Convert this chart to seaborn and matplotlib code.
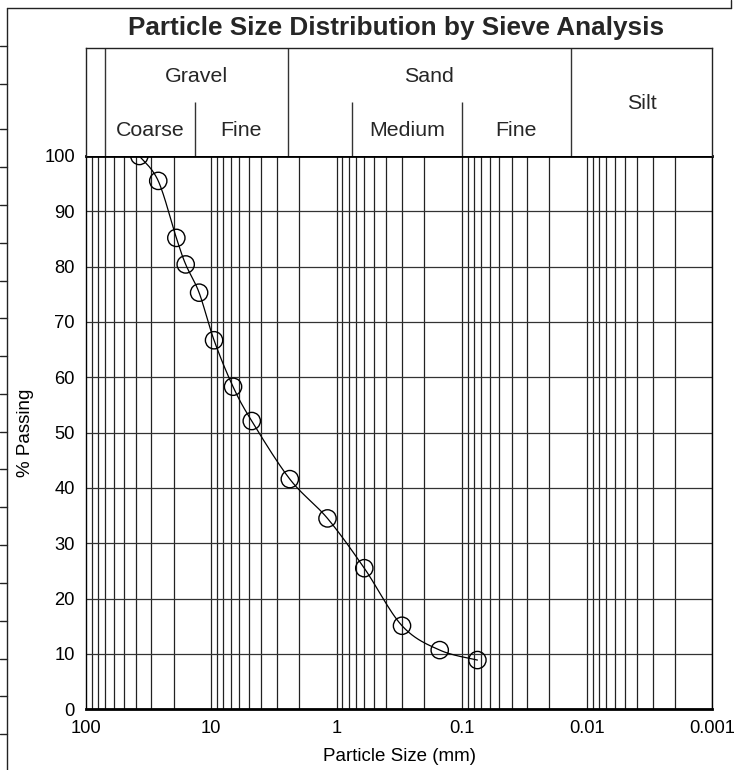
import numpy as np
import pandas as pd
import seaborn as sns
import matplotlib.pyplot as plt
from matplotlib.lines import Line2D
from matplotlib.ticker import FixedLocator, NullLocator

# Sieve-Daten (Korngröße in mm, Durchgang in %)
sieve_size = [37.5, 26.5, 19, 16, 12.5, 9.5, 6.7, 4.75, 2.36, 1.18, 0.6, 0.3, 0.15, 0.075]
passing = [100, 95.5, 85.2, 80.4, 75.3, 66.7, 58.3, 52.1, 41.6, 34.5, 25.5, 15.1, 10.7, 8.9]

# Klassifizierung oben (Grenzen in mm, aus dem Bild gelesen)
main_bounds = [70.5, 2.44, 0.0135]
sub_bounds = [13.5, 0.752, 0.100]
main_labels = [("Gravel", 70.5, 2.44), ("Sand", 2.44, 0.0135)]
sub_labels = [("Coarse", 70.5, 13.5), ("Fine", 13.5, 2.44),
              ("Medium", 0.752, 0.100), ("Fine", 0.100, 0.0135)]
silt_label = ("Silt", 0.0135, 0.001)

x_ticks = [100, 10, 1, 0.1, 0.01, 0.001]
x_ticklabels = ["100", "10", "1", "0.1", "0.01", "0.001"]
y_ticks = list(range(0, 101, 10))

df = pd.DataFrame({"size": sieve_size, "passing": passing})

sns.set_theme(style="white")
plt.rcParams['font.family'] = ['Liberation Sans', 'DejaVu Sans']


def catmull_rom(x, y, n=24):
    # geglättete Linie wie in Excel (im log-x Raum)
    p = np.column_stack([np.log10(x), y])
    p = np.vstack([p[0], p, p[-1]])
    out = []
    t = np.linspace(0, 1, n)[:, None]
    for i in range(1, len(p) - 2):
        p0, p1, p2, p3 = p[i - 1], p[i], p[i + 1], p[i + 2]
        seg = 0.5 * ((2 * p1) + (-p0 + p2) * t + (2 * p0 - 5 * p1 + 4 * p2 - p3) * t ** 2
                     + (-p0 + 3 * p1 - 3 * p2 + p3) * t ** 3)
        out.append(seg)
    out = np.vstack(out)
    return 10 ** out[:, 0], out[:, 1]


fig = plt.figure(figsize=(7.34, 7.70), dpi=100)
L, W = 86 / 734, (712.3 - 86) / 734
ax = fig.add_axes([L, 1 - 709.3 / 770, W, (709.3 - 156) / 770])
axh = fig.add_axes([L, 1 - 156 / 770, W, (156 - 48.3) / 770])

# Gitter
ax.set_xscale("log")
ax.set_xlim(100, 0.001)
ax.set_ylim(0, 100)
minor = [m * 10.0 ** e for e in range(-3, 2) for m in range(1, 10)]
for v in minor:
    ax.axvline(v, color="#222222", lw=0.9, zorder=1)
for v in y_ticks:
    ax.axhline(v, color="#333333", lw=0.9, zorder=1)

sx, sy = catmull_rom(sieve_size, passing)
ax.plot(sx, sy, color="black", lw=0.9, zorder=3)
sns.scatterplot(data=df, x="size", y="passing", ax=ax, marker="o", s=155,
                facecolor="none", edgecolor="black", linewidth=1.0, zorder=4,
                legend=False)

ax.xaxis.set_major_locator(FixedLocator(x_ticks))
ax.xaxis.set_minor_locator(NullLocator())
ax.set_xticklabels(x_ticklabels)
ax.set_yticks(y_ticks)
ax.tick_params(axis="both", length=0, labelsize=13.2, colors="black")
ax.tick_params(axis="x", pad=8)
ax.tick_params(axis="y", pad=8)
ax.set_xlabel("Particle Size (mm)", fontsize=13.5, color="black")
ax.set_ylabel("% Passing", fontsize=13.5, color="black")
ax.xaxis.set_label_coords(0.5, -0.070)
ax.yaxis.set_label_coords(-0.083, 0.5)
for side in ["left", "right"]:
    ax.spines[side].set_linewidth(1.0)
    ax.spines[side].set_color("black")
for side in ["top", "bottom"]:
    ax.spines[side].set_linewidth(2.0)
    ax.spines[side].set_color("black")
    ax.spines[side].set_zorder(5)

# Kopfzeile mit Bodenklassen
axh.set_xscale("log")
axh.set_xlim(100, 0.001)
axh.set_ylim(0, 1)
axh.set_xticks([])
axh.set_yticks([])
axh.xaxis.set_minor_locator(NullLocator())
for s in axh.spines.values():
    s.set_color("#222222")
    s.set_linewidth(1.0)
axh.spines["bottom"].set_visible(False)
for b in main_bounds:
    axh.axvline(b, color="#333333", lw=1.0)
for b in sub_bounds:
    axh.vlines(b, 0, 0.5, color="#333333", lw=1.0)


def gmid(a, b):
    return np.sqrt(a * b)


for txt, a, b in main_labels:
    axh.text(gmid(a, b), 0.74, txt, ha="center", va="center", fontsize=15.4)
for txt, a, b in sub_labels:
    axh.text(gmid(a, b), 0.24, txt, ha="center", va="center", fontsize=15.4)
axh.text(gmid(silt_label[1], silt_label[2]), 0.49, silt_label[0],
         ha="center", va="center", fontsize=15.4)

fig.text(396 / 734, 1 - 28 / 770, "Particle Size Distribution by Sieve Analysis",
         ha="center", va="center", fontsize=18.8, fontweight="bold")

# Rahmen links / oben (Tabellenraster)
def px_line(x0, y0, x1, y1):
    fig.add_artist(Line2D([x0 / 734, x1 / 734], [1 - y0 / 770, 1 - y1 / 770],
                          color="#222222", lw=1.0, transform=fig.transFigure))


px_line(7.3, 8, 730.5, 8)
px_line(730.5, 0, 730.5, 8)
px_line(7.3, 8, 7.3, 770)
row_lines = [45.7, 84] + [129.3 + 37.8 * k for k in range(17)]
for yy in row_lines:
    px_line(0, yy, 7.3, yy)

fig.savefig("out.png", dpi=100, facecolor="white")
